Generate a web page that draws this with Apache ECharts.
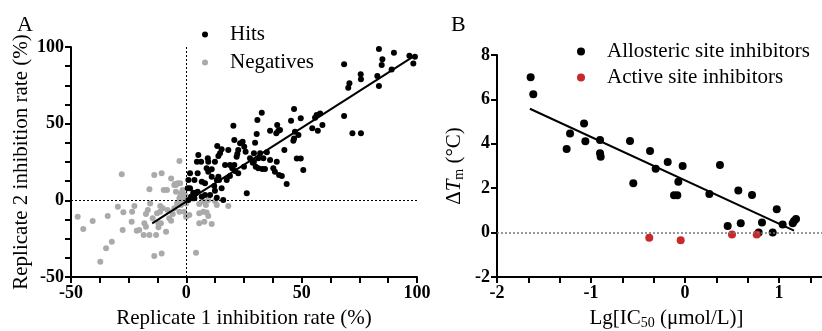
<!DOCTYPE html>
<html>
<head>
<meta charset="utf-8">
<script src="https://cdn.jsdelivr.net/npm/echarts@6/dist/echarts.min.js"></script>
<style>
  html, body { margin: 0; padding: 0; background: #fff; }
  #chart { width: 822px; height: 331px; }
</style>
</head>
<body>
<div id="chart"></div>
<script>
// panel A: replicate 1 vs replicate 2 inhibition rate (%)
const hitPoints = [
  [83.5, 98.7], [87.1, 100.2], [90, 96.3], [97, 100.2], [99.6, 100.2], [96.7, 94.3], [99.1, 93.7], [98.4, 89.3],
  [85, 92], [84.7, 88.2], [83.5, 74.5], [82.8, 81.1], [89, 85.4], [68.4, 88.7], [70.7, 76.3], [70.2, 73.4],
  [75.6, 82.2], [75.7, 78.9], [68.4, 55], [72, 43.7], [75.7, 43.7], [56.5, 55.6], [58, 56.7], [55.8, 53.9],
  [59, 49.1], [54.6, 47], [57, 45.4], [46.7, 59.5], [49.6, 53.5], [45.4, 51.9], [47.1, 44.8], [46.7, 40.4],
  [46.4, 38.9], [48.6, 42.6], [47.9, 27.3], [49.6, 27.3], [50.7, 19.8],
  [32.7, 57.2], [30.8, 52.4], [20.4, 48.7], [39.4, 49.1], [36.3, 45.4], [39, 43.7], [40.6, 45.8], [30.5, 43.2],
  [29.8, 37.6], [20.8, 39.3], [13.4, 35.4], [14.6, 30.7], [23.3, 37.2], [24.4, 38.2], [25.1, 35], [25.7, 31.7],
  [22.5, 32.8], [22.1, 30.2], [21.8, 28.4], [18.2, 32.8], [15.3, 33.3], [9.3, 27.4], [6.4, 25.2], [5.2, 29.5],
  [9.5, 25.2], [13.9, 28.9], [29.3, 30.7], [32, 30.7], [34.9, 31.3], [33.4, 27.4], [31.2, 27.4], [29.3, 25.2],
  [36.3, 26.3], [39.2, 25.2], [42.5, 32.8], [37.7, 20.9], [38.4, 18.7], [31.2, 20.9], [32.9, 20.4], [34.1, 20.4],
  [30.1, 21.9], [28.8, 24.5], [27.6, 27.4], [25, 21.9], [41.4, 15.8], [40.2, 16.5], [43.5, 10.6], [26.2, 4.6],
  [22.5, 17.6], [21.1, 19.1], [19.9, 20.9], [18.9, 23], [20.8, 23], [16.8, 23], [18.9, 15.8], [17.5, 13.2],
  [13.9, 15.4], [13.2, 13.2], [14.2, 13.2], [12.1, 9.3], [12.4, 6.3], [15.3, 7.8], [16, 0.2], [13.2, 1.7],
  [10.3, 3.5], [8.1, 3.5], [11, 15.4], [9.5, 18.7], [8.8, 20.9], [11, 20.2], [4.9, 17.6], [1.6, 17.6],
  [0.9, 13.2], [3.5, 13.2], [6.7, 12.1], [8.1, 11.1], [4.9, 5.6], [6.7, 2.4], [1.6, 7.8], [2, 2.4],
  [3.5, 1.3], [0.9, 0.2], [3, 5], [12.4, 25.2], [4.6, 25.2], [2.8, 1.3], [4.2, 4.6], [0.6, 7.8], [39.9, 45.4]
];
const negativePoints = [
  [-3, 25.6], [-28, 17], [-13.9, 16.5], [-10.7, 17.6], [-6.6, 14.3], [-5.2, 10], [-3.7, 11.1], [-16, 7.2],
  [-9.8, 6.7], [-8.4, 6.7], [-4.5, 5.6], [-2.3, 4.6], [-0.9, 2.4], [-0.1, -2], [-47.1, -10.7], [-44.7, -18.7],
  [-40.6, -13.5], [-34.1, -10.2], [-29.7, -4.2], [-27.3, -7.8], [-23.7, -14], [-27.6, -19.4], [-22.5, -3.7],
  [-21.5, -19.8], [-20.4, -19.4], [-18.2, -15], [-17.5, -17.2], [-18.5, -22.6], [-16, -22.6], [-16.7, -6.3],
  [-17.5, -8.9], [-14.6, -11.7], [-12.7, -8.5], [-12.1, -15], [-12.1, -17.6], [-11, -15], [-8.8, -20.5],
  [-13.1, -22.6], [-11.3, -3.7], [-10.2, -5.2], [-8.1, -6.3], [-7.4, -11.7], [-5.9, -8.9], [-6.6, -13.3],
  [-5.2, -5.2], [-4, -2], [-3, -7.4], [-2.3, -3.1], [-0.1, -10.7], [1.3, -9.6], [-0.9, -7.4], [-1.6, 0.2],
  [-3, 1.3], [-34.8, -31.3], [-32.3, -27], [-37.3, -40], [-13.9, -36.3], [-10.7, -34.6], [4.2, -34.2],
  [5.6, -15], [-23.5, -7.4], [18.2, -3.7], [13.2, -3], [11, -15.4], [9.5, -10.2], [7.4, -7.4], [5.6, -8.5],
  [8.5, -3], [9.5, 0.2], [12.4, -0.4], [5.6, -2.4], [7.7, -0.9], [8.8, -8], [7.8, -13.9],
  [-2.7, 11.1], [-4.5, 10], [-1.6, 6.7], [-0.6, 3.5], [-2.7, 2.4], [-4.9, 10.6], [-15.7, -2], [-11.4, -7.4]
];
const fitA = [[-14.8, -15], [98.7, 94]];

// panel B: Lg IC50 vs delta Tm
const allostericPoints = [
  [-1.642, 7.0], [-1.614, 6.23], [-1.259, 3.77], [-1.223, 4.46], [-1.074, 4.92], [-1.06, 4.11], [-0.904, 4.17],
  [-0.904, 3.57], [-0.897, 3.42], [-0.585, 4.13], [-0.55, 2.22], [-0.372, 3.68], [-0.312, 2.88], [-0.184, 3.18],
  [-0.025, 3.0], [-0.071, 2.29], [-0.117, 1.68], [-0.082, 1.68], [0.259, 1.74], [0.372, 3.05], [0.567, 1.9],
  [0.713, 1.69], [0.454, 0.3], [0.593, 0.42], [0.819, 0.45], [0.784, 0.0], [0.933, 0.0], [0.976, 1.05],
  [1.039, 0.37], [1.146, 0.42], [1.16, 0.52], [1.181, 0.61]
];
const activePoints = [[-0.38, -0.23], [-0.046, -0.35], [0.5, -0.08], [0.763, -0.08]];
const fitB = [[-1.65, 5.58], [1.16, 0.09]];

const SERIF = "'Liberation Serif', 'Times New Roman', serif";
const chart = echarts.init(document.getElementById("chart"), null, { renderer: "canvas" });

const intLabel = (v) => (Math.abs(v - Math.round(v)) < 1e-6 ? String(Math.round(v)) : "");

// fresh objects for every axis so nothing is shared between them
function makeAxis(extra, minorSplit) {
  const axis = {
    type: "value",
    axisLine: { show: true, onZero: false, lineStyle: { color: "#000", width: 2 } },
    axisTick: { show: true, length: 6, lineStyle: { color: "#000", width: 2 } },
    axisLabel: { color: "#000", fontFamily: SERIF, fontWeight: "bold", fontSize: 18, margin: 7, formatter: intLabel },
    splitLine: { show: false },
    nameLocation: "middle",
    nameTextStyle: { color: "#000", fontFamily: SERIF, fontSize: 21 },
  };
  if (minorSplit) {
    axis.minorTick = { show: true, splitNumber: minorSplit, length: 6, lineStyle: { color: "#000", width: 2 } };
  }
  return Object.assign(axis, extra);
}

const subRich = () => ({
  n: { fontFamily: SERIF, fontSize: 21, lineHeight: 24, color: "#000" },
  i: { fontFamily: SERIF, fontSize: 21, lineHeight: 24, fontStyle: "italic", color: "#000" },
  s: { fontFamily: SERIF, fontSize: 14, lineHeight: 13, verticalAlign: "bottom", color: "#000" },
});

chart.setOption({
  backgroundColor: "#fff",
  animation: false,
  title: [
    { text: "A", left: 12, top: 9, textStyle: { fontFamily: SERIF, fontSize: 22, fontWeight: "normal", color: "#000" } },
    { text: "B", left: 446, top: 9, textStyle: { fontFamily: SERIF, fontSize: 22, fontWeight: "normal", color: "#000" } },
  ],
  legend: [
    {
      left: 202, top: 24, padding: 0, orient: "vertical", itemWidth: 6, itemHeight: 6, itemGap: 7, icon: "circle",
      data: ["Hits", "Negatives"],
      textStyle: { fontFamily: SERIF, fontSize: 21, lineHeight: 20, color: "#000", padding: [0, 0, 0, 17] },
    },
    {
      left: 577, top: 41, padding: 0, orient: "vertical", itemWidth: 8, itemHeight: 8, itemGap: 5, icon: "circle",
      data: ["Allosteric site inhibitors", "Active site inhibitors"],
      textStyle: { fontFamily: SERIF, fontSize: 21, lineHeight: 20, color: "#000", padding: [0, 0, 0, 17] },
    },
  ],
  grid: [
    { left: 71, top: 47, width: 346, height: 230, outerBoundsMode: "none" },
    { left: 497, top: 55, width: 329, height: 222, outerBoundsMode: "none" },
  ],
  xAxis: [
    makeAxis({
      gridIndex: 0, min: -50, max: 100, interval: 50,
      name: "Replicate 1 inhibition rate (%)", nameGap: 31,
    }, 4),
    makeAxis({
      gridIndex: 1, min: -2, max: 1.5, interval: 1,
      name: "{n|Lg[IC}{s|50}{n| (μmol/L)]}", nameGap: 29,
      nameTextStyle: { color: "#000", fontFamily: SERIF, fontSize: 21, padding: [0, 0, 0, 10], rich: subRich() },
    }, 3),
  ],
  yAxis: [
    makeAxis({
      gridIndex: 0, min: -50, max: 100, interval: 50,
      name: "Replicate 2 inhibition rate (%)", nameGap: 39, nameRotate: 90,
    }, 4),
    makeAxis({
      gridIndex: 1, min: -2, max: 8, interval: 2,
      name: "{n|Δ}{i|T}{s|m}{n| (°C)}", nameGap: 31, nameRotate: 90,
      nameTextStyle: { color: "#000", fontFamily: SERIF, fontSize: 21, rich: subRich() },
    }, 0),
  ],
  series: [
    {
      name: "Negatives", type: "scatter", xAxisIndex: 0, yAxisIndex: 0,
      data: negativePoints, symbolSize: 6, itemStyle: { color: "#aaaaaa", opacity: 1 },
      markLine: {
        silent: true, symbol: "none", label: { show: false },
        lineStyle: { color: "#000", width: 1, type: [2, 2] },
        data: [{ xAxis: 0 }, { yAxis: 0 }],
      },
    },
    {
      name: "Hits", type: "scatter", xAxisIndex: 0, yAxisIndex: 0,
      data: hitPoints, symbolSize: 6, itemStyle: { color: "#000", opacity: 1 },
    },
    {
      type: "line", xAxisIndex: 0, yAxisIndex: 0, data: fitA, symbol: "none",
      lineStyle: { color: "#000", width: 2 }, silent: true,
    },
    {
      name: "Allosteric site inhibitors", type: "scatter", xAxisIndex: 1, yAxisIndex: 1,
      data: allostericPoints, symbolSize: 8, itemStyle: { color: "#000", opacity: 1 },
      markLine: {
        silent: true, symbol: "none", label: { show: false },
        lineStyle: { color: "#777", width: 1.5, type: [2, 2] },
        data: [{ yAxis: 0 }],
      },
    },
    {
      name: "Active site inhibitors", type: "scatter", xAxisIndex: 1, yAxisIndex: 1,
      data: activePoints, symbolSize: 8, itemStyle: { color: "#c62a2c", opacity: 1 },
    },
    {
      type: "line", xAxisIndex: 1, yAxisIndex: 1, data: fitB, symbol: "none",
      lineStyle: { color: "#000", width: 2 }, silent: true,
    },
  ],
});
</script>
</body>
</html>
